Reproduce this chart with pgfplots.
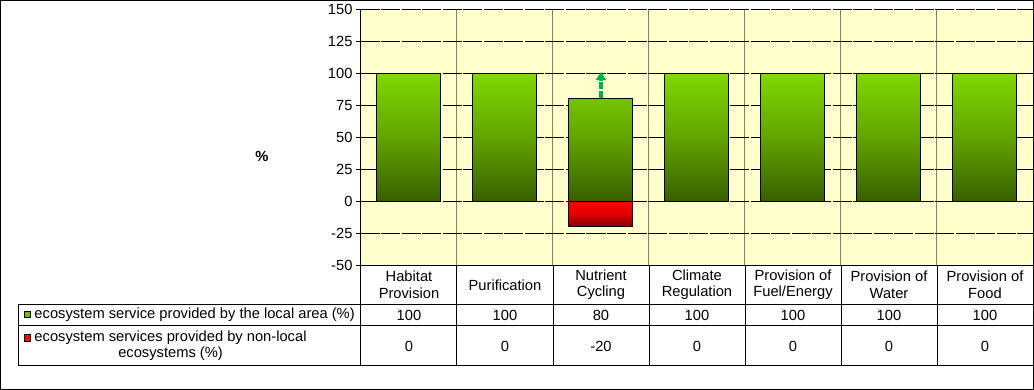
\documentclass[border=0pt]{standalone}
\usepackage{pgfplots}
\pgfplotsset{compat=1.18}
\usepackage{pgfplotstable}
\usepackage{fontspec}
\setmainfont{Liberation Sans}
\usetikzlibrary{arrows.meta}
\definecolor{bgyellow}{RGB}{255,255,204}
\definecolor{gtop}{RGB}{128,216,0}
\definecolor{gmid}{RGB}{98,164,0}
\definecolor{gbot}{RGB}{58,94,0}
\definecolor{rtop}{RGB}{255,0,0}
\definecolor{rmid}{RGB}{225,0,0}
\definecolor{rbot}{RGB}{125,0,0}
\definecolor{arrowgreen}{RGB}{0,176,80}
\definecolor{gridgray}{RGB}{128,128,128}

\pgfplotstableread{
x local nonlocal
1 100 0
2 100 0
3 80 -20
4 100 0
5 100 0
6 100 0
7 100 0
}\datatable

\begin{document}
\begin{tikzpicture}[font=\fontsize{14.7}{16.5}\selectfont, line width=1pt]
\begin{axis}[
  scale only axis, width=672pt, height=256pt,
  xmin=0.5, xmax=7.5, ymin=-50, ymax=150,
  ytick={-50,-25,...,150},
  xtick={1,...,7},
  xticklabels={{Habitat\\Provision},{Purification},{Nutrient\\Cycling},{Climate\\Regulation},{Provision of\\Fuel/Energy},{Provision of\\Water},{Provision of\\Food}},
  minor xtick={1.5,2.5,...,6.5},
  xminorgrids, ymajorgrids,
  minor x grid style={gridgray, line width=1pt},
  major y grid style={black, line width=1pt, dash pattern=on 19pt off 1.5pt},
  axis line style={draw=none},
  axis background/.style={fill=bgyellow},
  ytick pos=left, tick align=outside, major tick length=5pt,
  ytick style={black, line width=1pt},
  xtick style={draw=none},
  minor tick length=0pt,
  tick label style={font=\fontsize{14.7}{16.5}\selectfont},
  /pgf/number format/assume math mode=true,
  xticklabel style={align=center, anchor=center, yshift=-14.5pt},
  ylabel={\%},
  every axis y label/.style={at={(axis description cs:0,0)}, anchor=center, xshift=-99pt, yshift=109.3pt, font=\fontsize{14.7}{16.5}\selectfont\bfseries},
  clip=false,
]
\addplot[ybar, bar width=64pt, bar shift=0pt, draw=black, line width=1pt,
  top color=gtop, bottom color=gbot, middle color=gmid]
  table[x=x, y=local]{\datatable};
\addplot[ybar, bar width=64pt, bar shift=0pt, draw=black, line width=1pt,
  top color=rtop, bottom color=rbot, middle color=rmid]
  table[x=x, y=nonlocal]{\datatable};
\draw[arrowgreen, line width=3.5pt, dash pattern=on 7pt off 2pt, -{Triangle[width=10pt,length=8pt]}]
  (axis cs:3,80.8) -- (axis cs:3,101);
\end{axis}
\begin{scope}[x=1pt, y=1pt, line width=1pt]
  % axis lines
  \draw (0,256) -- (0,-100.4);
  \draw (0,0) -- (672,0);
  % table lines
  \draw (-342.7,-39) -- (672,-39);
  \draw (-342.7,-60.7) -- (672,-60.7);
  \draw (-342.7,-100.4) -- (672,-100.4);
  \draw (-342.7,-39) -- (-342.7,-100.4);
  \foreach \k in {1,...,6} \draw ({96*\k},0) -- ({96*\k},-100.4);
  \draw (672,0) -- (672,-100.4);
  % values
  \foreach \v [count=\i] in {100,100,80,100,100,100,100}
    \node at ({96*\i-48},-49.7) {\v};
  \foreach \v [count=\i] in {0,0,-20,0,0,0,0}
    \node at ({96*\i-48},-80.7) {\v};
  % legend keys
  \filldraw[fill=gtop!75!gbot, draw=black, line width=0.8pt] (-337,-45.9) rectangle (-330.3,-52.5);
  \node[anchor=west, inner sep=0pt] at (-327,-49.7) {ecosystem service provided by the local area (\%)};
  \filldraw[fill=rtop, draw=black, line width=0.8pt] (-337,-69.1) rectangle (-330.3,-75.7);
  \node[anchor=west, inner sep=0pt, align=center] at (-327,-80.2) {ecosystem services provided by non-local\\ecosystems (\%)};
  % outer frame
  \draw (-360.5,-124.2) rectangle (672.5,264.8);
\end{scope}
\end{tikzpicture}
\end{document}
